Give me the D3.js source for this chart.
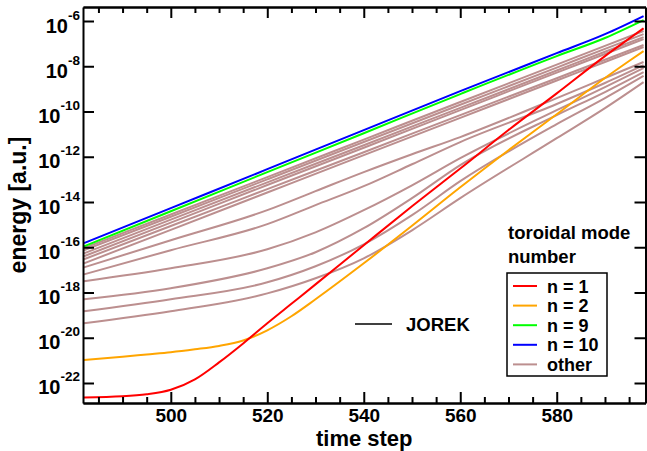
<!DOCTYPE html>
<html>
<head>
<meta charset="utf-8">
<script src="https://cdn.jsdelivr.net/npm/d3@7"></script>
<style>
body { margin: 0; background: #fff; }
svg text { font-family: "Liberation Sans", Arial, Helvetica, sans-serif; font-weight: bold; fill: #000; }
</style>
</head>
<body>
<div id="chart_root"></div>
<script>
// time steps for n = 9, 10 and the upper "other" modes
const steps = [482, 500, 520, 540, 560, 580, 590, 598];
// time steps for the lower "other" modes (they bend, so a few more points)
const stepsLower = [482, 500, 520, 530, 540, 550, 560, 580, 590, 598];
// finer time steps for n = 1 and n = 2
const stepsFine = [482, 490, 495, 500, 505, 510, 515, 520, 525, 530, 540, 550, 560, 570, 580, 590, 595, 598];

// log10 of the energy
const n1 = [-22.64, -22.59, -22.50, -22.30, -21.84, -21.09, -20.25, -19.36, -18.50, -17.64, -15.91, -14.19, -12.52, -10.82, -9.20, -7.55, -6.78, -6.32];
const n2 = [-20.98, -20.84, -20.74, -20.64, -20.51, -20.36, -20.12, -19.67, -19.05, -18.30, -16.71, -15.05, -13.35, -11.71, -10.12, -8.52, -7.77, -7.33];
const n9 = [-15.96, -14.41, -12.68, -10.96, -9.23, -7.55, -6.75, -5.96];
const n10 = [-15.82, -14.27, -12.55, -10.82, -9.10, -7.42, -6.58, -5.78];
const othersUpper = [
    [-16.04, -14.55, -12.90, -11.24, -9.58, -7.93, -7.10, -6.44],
    [-16.13, -14.65, -13.00, -11.35, -9.70, -8.06, -7.23, -6.58],
    [-16.27, -14.78, -13.13, -11.49, -9.84, -8.19, -7.36, -6.71],
    [-16.40, -14.91, -13.25, -11.60, -9.94, -8.28, -7.46, -6.80],
    [-16.53, -15.06, -13.43, -11.80, -10.16, -8.53, -7.71, -7.06],
    [-16.71, -15.23, -13.58, -11.93, -10.28, -8.63, -7.81, -7.15]
];
const othersLower = [
    [-16.89, -15.69, -14.36, -13.52, -12.68, -11.89, -11.13, -9.41, -8.52, -7.81],
    [-17.20, -16.13, -14.98, -14.14, -13.30, -12.33, -11.35, -9.67, -8.74, -7.95],
    [-17.50, -16.93, -16.09, -15.34, -14.36, -13.26, -12.06, -9.94, -8.92, -8.08],
    [-18.30, -17.81, -16.93, -16.22, -15.16, -13.83, -12.37, -10.16, -9.14, -8.26],
    [-18.83, -18.30, -17.55, -16.84, -15.87, -14.58, -13.08, -10.56, -9.41, -8.43],
    [-19.36, -18.83, -18.04, -17.37, -16.49, -15.25, -13.83, -11.18, -9.85, -8.70]
];

const xMajor = [500, 520, 540, 560, 580];
const xMinor = [485, 490, 495, 505, 510, 515, 525, 530, 535, 545, 550, 555, 565, 570, 575, 585, 590, 595];
const yExponents = [-22, -20, -18, -16, -14, -12, -10, -8, -6];

const legendNames = ["n = 1", "n = 2", "n = 9", "n = 10", "other"];
const legendColors = ["#ff0000", "#ffa500", "#00ff00", "#0000ff", "#bc8f8f"];

const margin = {top: 7, right: 1.5, bottom: 48, left: 83};
const width = 647 - margin.left - margin.right;
const height = 451 - margin.top - margin.bottom;

const svg = d3.select("#chart_root")
    .append("svg")
    .attr("width", 647)
    .attr("height", 451)
    .append("g")
    .attr("transform", "translate(" + margin.left + "," + margin.top + ")");

const xScale = d3.scaleLinear()
    .domain([481.8, 598.4])
    .range([0, width]);
const yScale = d3.scaleLog()
    .domain([Math.pow(10, -22.884), Math.pow(10, -5.381)])
    .range([height, 0]);

svg.append("clipPath")
    .attr("id", "plotclip")
    .append("rect")
    .attr("width", width)
    .attr("height", height);

const toPoints = (ts, logs) => ts.map((t, i) => ({t: t, e: Math.pow(10, logs[i])}));
const line = d3.line()
    .x(d => xScale(d.t))
    .y(d => yScale(d.e))
    .curve(d3.curveMonotoneX);

const curves = svg.append("g").attr("clip-path", "url(#plotclip)");
const series = [];
othersUpper.forEach(o => series.push({pts: toPoints(steps, o), color: legendColors[4]}));
othersLower.forEach(o => series.push({pts: toPoints(stepsLower, o), color: legendColors[4]}));
series.push({pts: toPoints(stepsFine, n2), color: legendColors[1]});
series.push({pts: toPoints(stepsFine, n1), color: legendColors[0]});
series.push({pts: toPoints(steps, n9), color: legendColors[2]});
series.push({pts: toPoints(steps, n10), color: legendColors[3]});

curves.selectAll("path")
    .data(series)
    .enter()
    .append("path")
    .attr("d", d => line(d.pts))
    .attr("fill", "none")
    .attr("stroke", d => d.color)
    .attr("stroke-width", 2);

// axes with inward ticks on all four sides
const styleAxis = g => {
    g.select(".domain").attr("stroke-width", 2);
    g.selectAll(".tick line").attr("stroke-width", 2);
};
svg.append("g")
    .attr("transform", "translate(0," + height + ")")
    .call(d3.axisBottom(xScale).tickValues(xMinor).tickSize(-6).tickSizeOuter(0).tickFormat(""))
    .call(styleAxis);
svg.append("g")
    .attr("transform", "translate(0," + height + ")")
    .call(d3.axisBottom(xScale).tickValues(xMajor).tickSize(-11).tickSizeOuter(0).tickPadding(5.5).tickFormat(d3.format("d")))
    .call(styleAxis)
    .call(g => g.selectAll("text").style("font-size", "19px").attr("font-family", null));
svg.append("g")
    .call(d3.axisTop(xScale).tickValues(xMinor).tickSize(-6).tickSizeOuter(0).tickFormat(""))
    .call(styleAxis);
svg.append("g")
    .call(d3.axisTop(xScale).tickValues(xMajor).tickSize(-11).tickSizeOuter(0).tickFormat(""))
    .call(styleAxis);
svg.append("g")
    .call(d3.axisLeft(yScale).tickValues(yExponents.map(e => Math.pow(10, e))).tickSize(-11).tickSizeOuter(0).tickFormat(""))
    .call(styleAxis);
svg.append("g")
    .attr("transform", "translate(" + width + ",0)")
    .call(d3.axisRight(yScale).tickValues(yExponents.map(e => Math.pow(10, e))).tickSize(-11).tickSizeOuter(0).tickFormat(""))
    .call(styleAxis);

// y tick labels as 10 with a superscript exponent
const yLabels = svg.append("g")
    .selectAll("text")
    .data(yExponents)
    .enter()
    .append("text")
    .attr("text-anchor", "end")
    .attr("x", -3)
    .attr("y", d => yScale(Math.pow(10, d)) + 11.5);
yLabels.append("tspan").style("font-size", "20px").text("10");
yLabels.append("tspan").style("font-size", "13.5px").attr("dy", -13).text(d => d);

// axis titles
svg.append("text")
    .attr("text-anchor", "middle")
    .attr("x", width / 2)
    .attr("y", height + 43.3)
    .style("font-size", "22px")
    .text("time step");
svg.append("text")
    .attr("text-anchor", "middle")
    .attr("transform", "translate(" + (-57) + "," + (height / 2) + ") rotate(-90)")
    .style("font-size", "23px")
    .text("energy [a.u.]");

// JOREK label
svg.append("line")
    .attr("x1", 355 - margin.left).attr("x2", 392 - margin.left)
    .attr("y1", 324 - margin.top).attr("y2", 324 - margin.top)
    .attr("stroke", "#000").attr("stroke-width", 1.5);
svg.append("text")
    .attr("x", 406 - margin.left)
    .attr("y", 330.5 - margin.top)
    .style("font-size", "18.5px")
    .text("JOREK");

// legend
const legend = svg.append("g")
    .attr("transform", "translate(" + (507 - margin.left) + "," + (273 - margin.top) + ")");
legend.append("text").attr("x", 1).attr("y", -34).style("font-size", "18.5px").text("toroidal mode");
legend.append("text").attr("x", 1).attr("y", -10).style("font-size", "18.5px").text("number");
legend.append("rect")
    .attr("width", 100).attr("height", 103)
    .attr("fill", "#fff").attr("stroke", "#000").attr("stroke-width", 1.5);
const entries = legend.selectAll(".entry")
    .data(legendNames)
    .enter()
    .append("g")
    .attr("transform", (d, i) => "translate(0," + (13 + i * 19.6) + ")");
entries.append("line")
    .attr("x1", 6).attr("x2", 30)
    .attr("stroke", (d, i) => legendColors[i])
    .attr("stroke-width", 2);
entries.append("text")
    .attr("x", 40)
    .attr("y", 6.5)
    .style("font-size", "18px")
    .text(d => d);
</script>
</body>
</html>
